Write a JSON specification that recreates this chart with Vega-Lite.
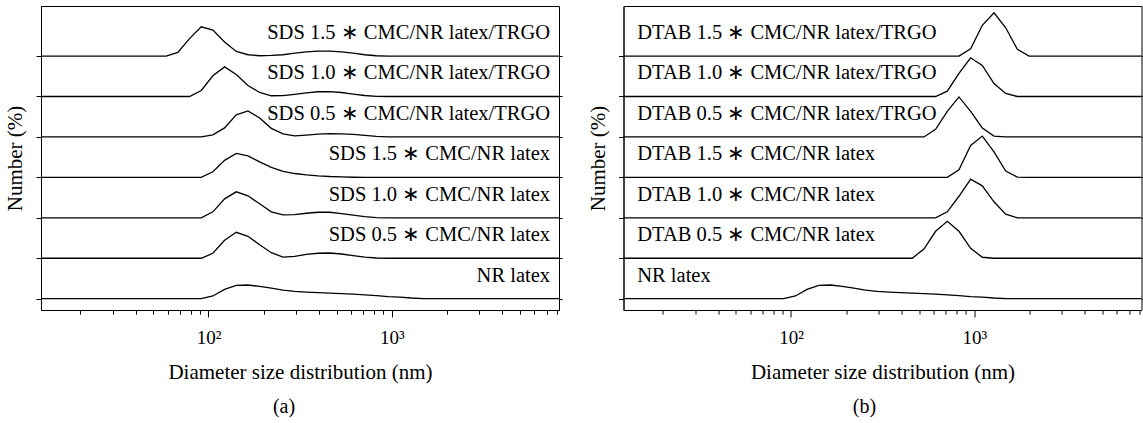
{
  "$schema": "https://vega.github.io/schema/vega-lite/v6.json",
  "padding": {"left": 4, "top": 5, "right": 0, "bottom": 5},
  "config": {
    "font": "Liberation Serif",
    "view": {"stroke": "#000", "strokeWidth": 1},
    "axis": {"domainColor": "#000", "tickColor": "#000", "labelColor": "#000", "titleColor": "#000", "grid": false, "labelFont": "Liberation Serif", "titleFont": "Liberation Serif", "titleFontWeight": "normal"},
    "title": {"font": "Liberation Serif", "fontWeight": "normal", "color": "#000"},
    "concat": {"spacing": 23.5}
  },
  "datasets": {
    "a": [
      {"s":"SDS 1.5 ∗ CMC/NR latex/TRGO","d":10.1,"n":0},{"s":"SDS 1.5 ∗ CMC/NR latex/TRGO","d":58.77,"n":0},{"s":"SDS 1.5 ∗ CMC/NR latex/TRGO","d":68.06,"n":2.5},{"s":"SDS 1.5 ∗ CMC/NR latex/TRGO","d":78.82,"n":12.2},{"s":"SDS 1.5 ∗ CMC/NR latex/TRGO","d":91.28,"n":20.5},{"s":"SDS 1.5 ∗ CMC/NR latex/TRGO","d":105.7,"n":18.2},{"s":"SDS 1.5 ∗ CMC/NR latex/TRGO","d":122.4,"n":9.8},{"s":"SDS 1.5 ∗ CMC/NR latex/TRGO","d":141.8,"n":3.2},{"s":"SDS 1.5 ∗ CMC/NR latex/TRGO","d":164.2,"n":0.9},{"s":"SDS 1.5 ∗ CMC/NR latex/TRGO","d":190.1,"n":0.2},{"s":"SDS 1.5 ∗ CMC/NR latex/TRGO","d":220.2,"n":0.4},{"s":"SDS 1.5 ∗ CMC/NR latex/TRGO","d":255,"n":0.9},{"s":"SDS 1.5 ∗ CMC/NR latex/TRGO","d":295.3,"n":2.0},{"s":"SDS 1.5 ∗ CMC/NR latex/TRGO","d":342,"n":2.9},{"s":"SDS 1.5 ∗ CMC/NR latex/TRGO","d":396.1,"n":3.5},{"s":"SDS 1.5 ∗ CMC/NR latex/TRGO","d":458.7,"n":3.5},{"s":"SDS 1.5 ∗ CMC/NR latex/TRGO","d":531.2,"n":2.9},{"s":"SDS 1.5 ∗ CMC/NR latex/TRGO","d":615.1,"n":2.0},{"s":"SDS 1.5 ∗ CMC/NR latex/TRGO","d":712.4,"n":0.9},{"s":"SDS 1.5 ∗ CMC/NR latex/TRGO","d":825,"n":0.2},{"s":"SDS 1.5 ∗ CMC/NR latex/TRGO","d":955.4,"n":0},{"s":"SDS 1.5 ∗ CMC/NR latex/TRGO","d":10000,"n":0},
      {"s":"SDS 1.0 ∗ CMC/NR latex/TRGO","d":10.1,"n":0},{"s":"SDS 1.0 ∗ CMC/NR latex/TRGO","d":78.82,"n":0},{"s":"SDS 1.0 ∗ CMC/NR latex/TRGO","d":91.28,"n":4.2},{"s":"SDS 1.0 ∗ CMC/NR latex/TRGO","d":105.7,"n":14.5},{"s":"SDS 1.0 ∗ CMC/NR latex/TRGO","d":122.4,"n":20.7},{"s":"SDS 1.0 ∗ CMC/NR latex/TRGO","d":141.8,"n":15.4},{"s":"SDS 1.0 ∗ CMC/NR latex/TRGO","d":164.2,"n":7.7},{"s":"SDS 1.0 ∗ CMC/NR latex/TRGO","d":190.1,"n":2.8},{"s":"SDS 1.0 ∗ CMC/NR latex/TRGO","d":220.2,"n":0.5},{"s":"SDS 1.0 ∗ CMC/NR latex/TRGO","d":255,"n":0.6},{"s":"SDS 1.0 ∗ CMC/NR latex/TRGO","d":295.3,"n":1.5},{"s":"SDS 1.0 ∗ CMC/NR latex/TRGO","d":342,"n":2.5},{"s":"SDS 1.0 ∗ CMC/NR latex/TRGO","d":396.1,"n":3.3},{"s":"SDS 1.0 ∗ CMC/NR latex/TRGO","d":458.7,"n":3.4},{"s":"SDS 1.0 ∗ CMC/NR latex/TRGO","d":531.2,"n":2.8},{"s":"SDS 1.0 ∗ CMC/NR latex/TRGO","d":615.1,"n":1.7},{"s":"SDS 1.0 ∗ CMC/NR latex/TRGO","d":712.4,"n":0.7},{"s":"SDS 1.0 ∗ CMC/NR latex/TRGO","d":825,"n":0.1},{"s":"SDS 1.0 ∗ CMC/NR latex/TRGO","d":955.4,"n":0},{"s":"SDS 1.0 ∗ CMC/NR latex/TRGO","d":10000,"n":0},
      {"s":"SDS 0.5 ∗ CMC/NR latex/TRGO","d":10.1,"n":0},{"s":"SDS 0.5 ∗ CMC/NR latex/TRGO","d":91.28,"n":0},{"s":"SDS 0.5 ∗ CMC/NR latex/TRGO","d":105.7,"n":1.4},{"s":"SDS 0.5 ∗ CMC/NR latex/TRGO","d":122.4,"n":6.3},{"s":"SDS 0.5 ∗ CMC/NR latex/TRGO","d":141.8,"n":15.4},{"s":"SDS 0.5 ∗ CMC/NR latex/TRGO","d":164.2,"n":18.2},{"s":"SDS 0.5 ∗ CMC/NR latex/TRGO","d":190.1,"n":13.3},{"s":"SDS 0.5 ∗ CMC/NR latex/TRGO","d":220.2,"n":6.0},{"s":"SDS 0.5 ∗ CMC/NR latex/TRGO","d":255,"n":2.1},{"s":"SDS 0.5 ∗ CMC/NR latex/TRGO","d":295.3,"n":0.7},{"s":"SDS 0.5 ∗ CMC/NR latex/TRGO","d":342,"n":1.3},{"s":"SDS 0.5 ∗ CMC/NR latex/TRGO","d":396.1,"n":2.0},{"s":"SDS 0.5 ∗ CMC/NR latex/TRGO","d":458.7,"n":2.3},{"s":"SDS 0.5 ∗ CMC/NR latex/TRGO","d":531.2,"n":2.2},{"s":"SDS 0.5 ∗ CMC/NR latex/TRGO","d":615.1,"n":1.8},{"s":"SDS 0.5 ∗ CMC/NR latex/TRGO","d":712.4,"n":1.1},{"s":"SDS 0.5 ∗ CMC/NR latex/TRGO","d":825,"n":0.4},{"s":"SDS 0.5 ∗ CMC/NR latex/TRGO","d":955.4,"n":0},{"s":"SDS 0.5 ∗ CMC/NR latex/TRGO","d":10000,"n":0},
      {"s":"SDS 1.5 ∗ CMC/NR latex","d":10.1,"n":0},{"s":"SDS 1.5 ∗ CMC/NR latex","d":91.28,"n":0},{"s":"SDS 1.5 ∗ CMC/NR latex","d":105.7,"n":3.9},{"s":"SDS 1.5 ∗ CMC/NR latex","d":122.4,"n":11.9},{"s":"SDS 1.5 ∗ CMC/NR latex","d":141.8,"n":16.8},{"s":"SDS 1.5 ∗ CMC/NR latex","d":164.2,"n":15.1},{"s":"SDS 1.5 ∗ CMC/NR latex","d":190.1,"n":10.9},{"s":"SDS 1.5 ∗ CMC/NR latex","d":220.2,"n":7.0},{"s":"SDS 1.5 ∗ CMC/NR latex","d":255,"n":4.2},{"s":"SDS 1.5 ∗ CMC/NR latex","d":295.3,"n":2.7},{"s":"SDS 1.5 ∗ CMC/NR latex","d":342,"n":1.8},{"s":"SDS 1.5 ∗ CMC/NR latex","d":396.1,"n":1.1},{"s":"SDS 1.5 ∗ CMC/NR latex","d":458.7,"n":0.6},{"s":"SDS 1.5 ∗ CMC/NR latex","d":531.2,"n":0.3},{"s":"SDS 1.5 ∗ CMC/NR latex","d":615.1,"n":0.1},{"s":"SDS 1.5 ∗ CMC/NR latex","d":712.4,"n":0},{"s":"SDS 1.5 ∗ CMC/NR latex","d":10000,"n":0},
      {"s":"SDS 1.0 ∗ CMC/NR latex","d":10.1,"n":0},{"s":"SDS 1.0 ∗ CMC/NR latex","d":91.28,"n":0},{"s":"SDS 1.0 ∗ CMC/NR latex","d":105.7,"n":4.2},{"s":"SDS 1.0 ∗ CMC/NR latex","d":122.4,"n":13.3},{"s":"SDS 1.0 ∗ CMC/NR latex","d":141.8,"n":18.2},{"s":"SDS 1.0 ∗ CMC/NR latex","d":164.2,"n":15.4},{"s":"SDS 1.0 ∗ CMC/NR latex","d":190.1,"n":9.8},{"s":"SDS 1.0 ∗ CMC/NR latex","d":220.2,"n":4.2},{"s":"SDS 1.0 ∗ CMC/NR latex","d":255,"n":2.1},{"s":"SDS 1.0 ∗ CMC/NR latex","d":295.3,"n":2.3},{"s":"SDS 1.0 ∗ CMC/NR latex","d":342,"n":3.2},{"s":"SDS 1.0 ∗ CMC/NR latex","d":396.1,"n":3.9},{"s":"SDS 1.0 ∗ CMC/NR latex","d":458.7,"n":3.9},{"s":"SDS 1.0 ∗ CMC/NR latex","d":531.2,"n":3.0},{"s":"SDS 1.0 ∗ CMC/NR latex","d":615.1,"n":1.9},{"s":"SDS 1.0 ∗ CMC/NR latex","d":712.4,"n":0.8},{"s":"SDS 1.0 ∗ CMC/NR latex","d":825,"n":0.2},{"s":"SDS 1.0 ∗ CMC/NR latex","d":955.4,"n":0},{"s":"SDS 1.0 ∗ CMC/NR latex","d":10000,"n":0},
      {"s":"SDS 0.5 ∗ CMC/NR latex","d":10.1,"n":0},{"s":"SDS 0.5 ∗ CMC/NR latex","d":91.28,"n":0},{"s":"SDS 0.5 ∗ CMC/NR latex","d":105.7,"n":3.5},{"s":"SDS 0.5 ∗ CMC/NR latex","d":122.4,"n":12.6},{"s":"SDS 0.5 ∗ CMC/NR latex","d":141.8,"n":18.2},{"s":"SDS 0.5 ∗ CMC/NR latex","d":164.2,"n":15.4},{"s":"SDS 0.5 ∗ CMC/NR latex","d":190.1,"n":9.5},{"s":"SDS 0.5 ∗ CMC/NR latex","d":220.2,"n":3.9},{"s":"SDS 0.5 ∗ CMC/NR latex","d":255,"n":0.8},{"s":"SDS 0.5 ∗ CMC/NR latex","d":295.3,"n":1.3},{"s":"SDS 0.5 ∗ CMC/NR latex","d":342,"n":2.7},{"s":"SDS 0.5 ∗ CMC/NR latex","d":396.1,"n":3.5},{"s":"SDS 0.5 ∗ CMC/NR latex","d":458.7,"n":3.7},{"s":"SDS 0.5 ∗ CMC/NR latex","d":531.2,"n":3.0},{"s":"SDS 0.5 ∗ CMC/NR latex","d":615.1,"n":1.9},{"s":"SDS 0.5 ∗ CMC/NR latex","d":712.4,"n":0.8},{"s":"SDS 0.5 ∗ CMC/NR latex","d":825,"n":0.2},{"s":"SDS 0.5 ∗ CMC/NR latex","d":955.4,"n":0},{"s":"SDS 0.5 ∗ CMC/NR latex","d":10000,"n":0},
      {"s":"NR latex","d":10.1,"n":0},{"s":"NR latex","d":91.28,"n":0},{"s":"NR latex","d":105.7,"n":1.9},{"s":"NR latex","d":122.4,"n":6.5},{"s":"NR latex","d":141.8,"n":9.3},{"s":"NR latex","d":164.2,"n":9.6},{"s":"NR latex","d":190.1,"n":8.6},{"s":"NR latex","d":220.2,"n":7.4},{"s":"NR latex","d":255,"n":6.0},{"s":"NR latex","d":295.3,"n":5.1},{"s":"NR latex","d":342,"n":4.6},{"s":"NR latex","d":396.1,"n":4.2},{"s":"NR latex","d":458.7,"n":3.9},{"s":"NR latex","d":531.2,"n":3.6},{"s":"NR latex","d":615.1,"n":3.2},{"s":"NR latex","d":712.4,"n":2.7},{"s":"NR latex","d":825,"n":2.1},{"s":"NR latex","d":955.4,"n":1.5},{"s":"NR latex","d":1106,"n":1.1},{"s":"NR latex","d":1281,"n":0.5},{"s":"NR latex","d":1484,"n":0.1},{"s":"NR latex","d":1718,"n":0},{"s":"NR latex","d":10000,"n":0}
    ],
    "b": [
      {"s":"DTAB 1.5 ∗ CMC/NR latex/TRGO","d":10.1,"n":0},{"s":"DTAB 1.5 ∗ CMC/NR latex/TRGO","d":825,"n":0},{"s":"DTAB 1.5 ∗ CMC/NR latex/TRGO","d":955.4,"n":5.1},{"s":"DTAB 1.5 ∗ CMC/NR latex/TRGO","d":1106,"n":21.5},{"s":"DTAB 1.5 ∗ CMC/NR latex/TRGO","d":1281,"n":30.3},{"s":"DTAB 1.5 ∗ CMC/NR latex/TRGO","d":1484,"n":19.8},{"s":"DTAB 1.5 ∗ CMC/NR latex/TRGO","d":1718,"n":4.7},{"s":"DTAB 1.5 ∗ CMC/NR latex/TRGO","d":1990,"n":0},{"s":"DTAB 1.5 ∗ CMC/NR latex/TRGO","d":10000,"n":0},
      {"s":"DTAB 1.0 ∗ CMC/NR latex/TRGO","d":10.1,"n":0},{"s":"DTAB 1.0 ∗ CMC/NR latex/TRGO","d":615.1,"n":0},{"s":"DTAB 1.0 ∗ CMC/NR latex/TRGO","d":712.4,"n":3.7},{"s":"DTAB 1.0 ∗ CMC/NR latex/TRGO","d":825,"n":16.1},{"s":"DTAB 1.0 ∗ CMC/NR latex/TRGO","d":955.4,"n":27.1},{"s":"DTAB 1.0 ∗ CMC/NR latex/TRGO","d":1106,"n":21.7},{"s":"DTAB 1.0 ∗ CMC/NR latex/TRGO","d":1281,"n":9.1},{"s":"DTAB 1.0 ∗ CMC/NR latex/TRGO","d":1484,"n":2.1},{"s":"DTAB 1.0 ∗ CMC/NR latex/TRGO","d":1718,"n":0},{"s":"DTAB 1.0 ∗ CMC/NR latex/TRGO","d":10000,"n":0},
      {"s":"DTAB 0.5 ∗ CMC/NR latex/TRGO","d":10.1,"n":0},{"s":"DTAB 0.5 ∗ CMC/NR latex/TRGO","d":531.2,"n":0},{"s":"DTAB 0.5 ∗ CMC/NR latex/TRGO","d":615.1,"n":5.3},{"s":"DTAB 0.5 ∗ CMC/NR latex/TRGO","d":712.4,"n":17.9},{"s":"DTAB 0.5 ∗ CMC/NR latex/TRGO","d":825,"n":28},{"s":"DTAB 0.5 ∗ CMC/NR latex/TRGO","d":955.4,"n":17.9},{"s":"DTAB 0.5 ∗ CMC/NR latex/TRGO","d":1106,"n":6.3},{"s":"DTAB 0.5 ∗ CMC/NR latex/TRGO","d":1281,"n":0.6},{"s":"DTAB 0.5 ∗ CMC/NR latex/TRGO","d":1484,"n":0},{"s":"DTAB 0.5 ∗ CMC/NR latex/TRGO","d":10000,"n":0},
      {"s":"DTAB 1.5 ∗ CMC/NR latex","d":10.1,"n":0},{"s":"DTAB 1.5 ∗ CMC/NR latex","d":712.4,"n":0},{"s":"DTAB 1.5 ∗ CMC/NR latex","d":825,"n":5.3},{"s":"DTAB 1.5 ∗ CMC/NR latex","d":955.4,"n":22.4},{"s":"DTAB 1.5 ∗ CMC/NR latex","d":1106,"n":28.9},{"s":"DTAB 1.5 ∗ CMC/NR latex","d":1281,"n":17.9},{"s":"DTAB 1.5 ∗ CMC/NR latex","d":1484,"n":4.4},{"s":"DTAB 1.5 ∗ CMC/NR latex","d":1718,"n":0.2},{"s":"DTAB 1.5 ∗ CMC/NR latex","d":1990,"n":0},{"s":"DTAB 1.5 ∗ CMC/NR latex","d":10000,"n":0},
      {"s":"DTAB 1.0 ∗ CMC/NR latex","d":10.1,"n":0},{"s":"DTAB 1.0 ∗ CMC/NR latex","d":615.1,"n":0},{"s":"DTAB 1.0 ∗ CMC/NR latex","d":712.4,"n":4.2},{"s":"DTAB 1.0 ∗ CMC/NR latex","d":825,"n":15.1},{"s":"DTAB 1.0 ∗ CMC/NR latex","d":955.4,"n":27.1},{"s":"DTAB 1.0 ∗ CMC/NR latex","d":1106,"n":22.4},{"s":"DTAB 1.0 ∗ CMC/NR latex","d":1281,"n":11.2},{"s":"DTAB 1.0 ∗ CMC/NR latex","d":1484,"n":2.6},{"s":"DTAB 1.0 ∗ CMC/NR latex","d":1718,"n":0},{"s":"DTAB 1.0 ∗ CMC/NR latex","d":10000,"n":0},
      {"s":"DTAB 0.5 ∗ CMC/NR latex","d":10.1,"n":0},{"s":"DTAB 0.5 ∗ CMC/NR latex","d":458.7,"n":0},{"s":"DTAB 0.5 ∗ CMC/NR latex","d":531.2,"n":6.5},{"s":"DTAB 0.5 ∗ CMC/NR latex","d":615.1,"n":18.9},{"s":"DTAB 0.5 ∗ CMC/NR latex","d":712.4,"n":25.9},{"s":"DTAB 0.5 ∗ CMC/NR latex","d":825,"n":18.9},{"s":"DTAB 0.5 ∗ CMC/NR latex","d":955.4,"n":7},{"s":"DTAB 0.5 ∗ CMC/NR latex","d":1106,"n":0.7},{"s":"DTAB 0.5 ∗ CMC/NR latex","d":1281,"n":0},{"s":"DTAB 0.5 ∗ CMC/NR latex","d":10000,"n":0},
      {"s":"NR latex","d":10.1,"n":0},{"s":"NR latex","d":91.28,"n":0},{"s":"NR latex","d":105.7,"n":1.9},{"s":"NR latex","d":122.4,"n":6.5},{"s":"NR latex","d":141.8,"n":9.3},{"s":"NR latex","d":164.2,"n":9.6},{"s":"NR latex","d":190.1,"n":8.6},{"s":"NR latex","d":220.2,"n":7.4},{"s":"NR latex","d":255,"n":6.0},{"s":"NR latex","d":295.3,"n":5.1},{"s":"NR latex","d":342,"n":4.6},{"s":"NR latex","d":396.1,"n":4.2},{"s":"NR latex","d":458.7,"n":3.9},{"s":"NR latex","d":531.2,"n":3.6},{"s":"NR latex","d":615.1,"n":3.2},{"s":"NR latex","d":712.4,"n":2.7},{"s":"NR latex","d":825,"n":2.1},{"s":"NR latex","d":955.4,"n":1.5},{"s":"NR latex","d":1106,"n":1.1},{"s":"NR latex","d":1281,"n":0.5},{"s":"NR latex","d":1484,"n":0.1},{"s":"NR latex","d":1718,"n":0},{"s":"NR latex","d":10000,"n":0}
    ],
    "aLabels": [
      {"s":"SDS 1.5 ∗ CMC/NR latex/TRGO"},{"s":"SDS 1.0 ∗ CMC/NR latex/TRGO"},{"s":"SDS 0.5 ∗ CMC/NR latex/TRGO"},{"s":"SDS 1.5 ∗ CMC/NR latex"},{"s":"SDS 1.0 ∗ CMC/NR latex"},{"s":"SDS 0.5 ∗ CMC/NR latex"},{"s":"NR latex"}
    ],
    "bLabels": [
      {"s":"DTAB 1.5 ∗ CMC/NR latex/TRGO"},{"s":"DTAB 1.0 ∗ CMC/NR latex/TRGO"},{"s":"DTAB 0.5 ∗ CMC/NR latex/TRGO"},{"s":"DTAB 1.5 ∗ CMC/NR latex"},{"s":"DTAB 1.0 ∗ CMC/NR latex"},{"s":"DTAB 0.5 ∗ CMC/NR latex"},{"s":"NR latex"}
    ]
  },
  "hconcat": [
    {
      "width": 518,
      "height": 304,
      "title": {"text": "(a)", "orient": "bottom", "fontSize": 20, "dx": -16, "offset": 15},
      "layer": [
        {
          "data": {"name": "a"},
          "mark": {"type": "line", "color": "#000", "strokeWidth": 1.3, "clip": true},
          "encoding": {
            "x": {"field": "d", "type": "quantitative", "scale": {"type": "log", "domain": [12.2, 8170], "nice": false}, "axis": {"orient": "bottom", "values": [100, 1000], "labelExpr": "datum.value == 100 ? '10²' : '10³'", "tickSize": 7, "labelFontSize": 19, "labelPadding": 11, "title": "Diameter size distribution (nm)", "titleFontSize": 21, "titlePadding": 14}},
            "y": {"field": "s", "type": "nominal", "scale": {"type": "point", "domain": ["SDS 1.5 ∗ CMC/NR latex/TRGO","SDS 1.0 ∗ CMC/NR latex/TRGO","SDS 0.5 ∗ CMC/NR latex/TRGO","SDS 1.5 ∗ CMC/NR latex","SDS 1.0 ∗ CMC/NR latex","SDS 0.5 ∗ CMC/NR latex","NR latex"], "padding": 0.758, "align": 0.816}, "axis": {"orient": "left", "labels": false, "tickSize": 5, "title": "Number (%)", "titleFontSize": 21, "titlePadding": 10}},
            "yOffset": {"field": "n", "type": "quantitative", "scale": {"domain": [0, 35], "range": [0, -50]}},
            "detail": {"field": "s", "type": "nominal"},
            "order": {"field": "d", "type": "quantitative"}
          }
        },
        {
          "data": {"name": "aLabels"},
          "mark": {"type": "text", "align": "right", "baseline": "middle", "dy": -23, "fontSize": 20.5, "color": "#000"},
          "encoding": {
            "x": {"datum": 7300, "type": "quantitative", "scale": {"type": "log", "domain": [12.2, 8170], "nice": false}, "axis": {"orient": "bottom", "values": [20,30,40,50,60,70,80,90,200,300,400,500,600,700,800,900,2000,3000,4000,5000,6000,7000,8000], "labels": false, "tickSize": 4, "title": null, "domain": false}},
            "y": {"field": "s", "type": "nominal", "scale": {"type": "point", "domain": ["SDS 1.5 ∗ CMC/NR latex/TRGO","SDS 1.0 ∗ CMC/NR latex/TRGO","SDS 0.5 ∗ CMC/NR latex/TRGO","SDS 1.5 ∗ CMC/NR latex","SDS 1.0 ∗ CMC/NR latex","SDS 0.5 ∗ CMC/NR latex","NR latex"], "padding": 0.758, "align": 0.816}, "axis": {"orient": "right", "labels": false, "tickSize": 3, "title": null, "domain": false}},
            "text": {"field": "s"}
          }
        }
      ],
      "resolve": {"axis": {"x": "independent", "y": "independent"}}
    },
    {
      "width": 518,
      "height": 304,
      "title": {"text": "(b)", "orient": "bottom", "fontSize": 20, "dx": -18, "offset": 15},
      "layer": [
        {
          "data": {"name": "b"},
          "mark": {"type": "line", "color": "#000", "strokeWidth": 1.3, "clip": true},
          "encoding": {
            "x": {"field": "d", "type": "quantitative", "scale": {"type": "log", "domain": [12.2, 8170], "nice": false}, "axis": {"orient": "bottom", "values": [100, 1000], "labelExpr": "datum.value == 100 ? '10²' : '10³'", "tickSize": 7, "labelFontSize": 19, "labelPadding": 11, "title": "Diameter size distribution (nm)", "titleFontSize": 21, "titlePadding": 14}},
            "y": {"field": "s", "type": "nominal", "scale": {"type": "point", "domain": ["DTAB 1.5 ∗ CMC/NR latex/TRGO","DTAB 1.0 ∗ CMC/NR latex/TRGO","DTAB 0.5 ∗ CMC/NR latex/TRGO","DTAB 1.5 ∗ CMC/NR latex","DTAB 1.0 ∗ CMC/NR latex","DTAB 0.5 ∗ CMC/NR latex","NR latex"], "padding": 0.758, "align": 0.816}, "axis": {"orient": "left", "labels": false, "tickSize": 5, "title": "Number (%)", "titleFontSize": 21, "titlePadding": 10}},
            "yOffset": {"field": "n", "type": "quantitative", "scale": {"domain": [0, 35], "range": [0, -50]}},
            "detail": {"field": "s", "type": "nominal"},
            "order": {"field": "d", "type": "quantitative"}
          }
        },
        {
          "data": {"name": "bLabels"},
          "mark": {"type": "text", "align": "left", "baseline": "middle", "dy": -23, "fontSize": 20.5, "color": "#000"},
          "encoding": {
            "x": {"datum": 14.5, "type": "quantitative", "scale": {"type": "log", "domain": [12.2, 8170], "nice": false}, "axis": {"orient": "bottom", "values": [20,30,40,50,60,70,80,90,200,300,400,500,600,700,800,900,2000,3000,4000,5000,6000,7000,8000], "labels": false, "tickSize": 4, "title": null, "domain": false}},
            "y": {"field": "s", "type": "nominal", "scale": {"type": "point", "domain": ["DTAB 1.5 ∗ CMC/NR latex/TRGO","DTAB 1.0 ∗ CMC/NR latex/TRGO","DTAB 0.5 ∗ CMC/NR latex/TRGO","DTAB 1.5 ∗ CMC/NR latex","DTAB 1.0 ∗ CMC/NR latex","DTAB 0.5 ∗ CMC/NR latex","NR latex"], "padding": 0.758, "align": 0.816}, "axis": {"orient": "right", "labels": false, "tickSize": 3, "title": null, "domain": false}},
            "text": {"field": "s"}
          }
        }
      ],
      "resolve": {"axis": {"x": "independent", "y": "independent"}}
    }
  ]
}
